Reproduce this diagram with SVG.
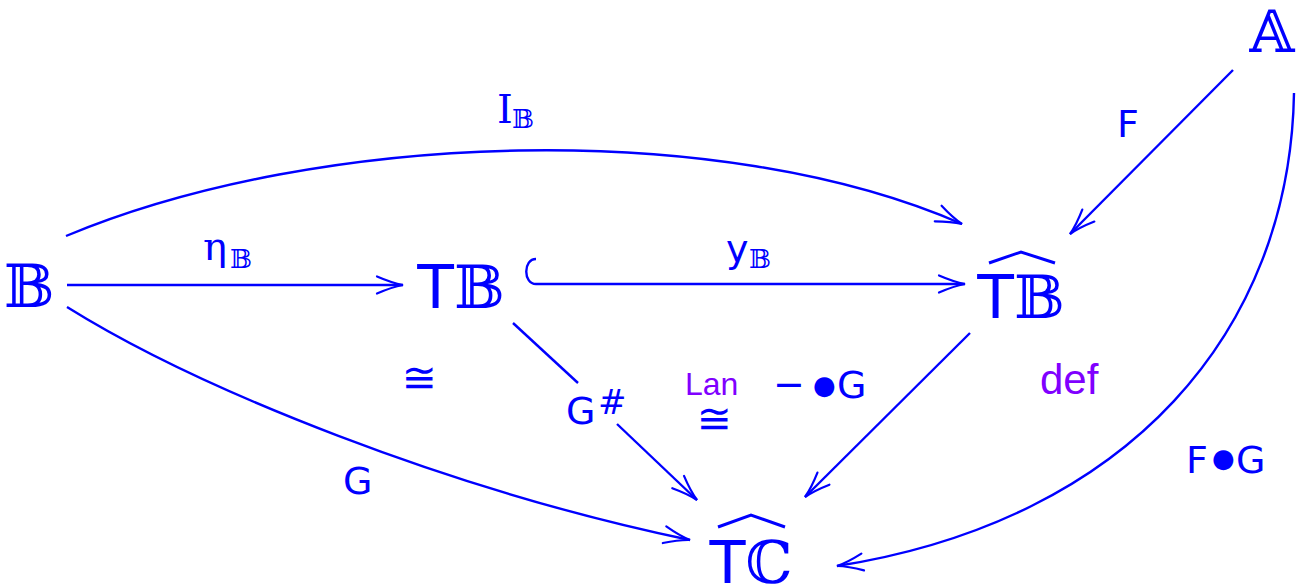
<svg xmlns="http://www.w3.org/2000/svg" width="1304" height="588" viewBox="0 0 1304 588">
<style>
.n{font-family:"DejaVu Serif","DejaVu Sans",serif;fill:#0000ff}
.s{font-family:"DejaVu Sans",sans-serif;fill:#0000ff}
.l{font-family:"DejaVu Sans",sans-serif;fill:#0000ff;font-size:38px}
.p{font-family:"Liberation Sans",sans-serif;fill:#8000ff}
.c{fill:none;stroke:#0000ff;stroke-width:2.4}
.h{fill:none;stroke:#0000ff;stroke-width:3}
</style>
<defs>
<marker id="a" markerUnits="userSpaceOnUse" viewBox="-30 -12 34 24" markerWidth="34" markerHeight="24" refX="0" refY="0" orient="auto">
<path d="M-26,-8.5 Q-11,-2 0,0 Q-11,2 -26,8.5" fill="none" stroke="#0000ff" stroke-width="2.2" stroke-linecap="round"/>
</marker>
</defs>
<g id="nodeB"><text class="n" x="29" y="307" font-size="60" text-anchor="middle">𝔹</text></g>
<g id="nodeTB"><text class="s" x="461" y="308" font-size="60" text-anchor="middle">T<tspan class="n">𝔹</tspan></text></g>
<g id="nodeTBhat"><path class="h" d="M989,263 L1021,252 L1055,263"/><text class="s" x="1021" y="318" font-size="60" text-anchor="middle">T<tspan class="n">𝔹</tspan></text></g>
<g id="nodeTChat"><path class="h" d="M718,527 L751,515 L785,527"/><text class="s" x="751" y="583" font-size="59" text-anchor="middle">T<tspan class="n">ℂ</tspan></text></g>
<g id="nodeA"><text class="n" x="1272" y="52" font-size="58" text-anchor="middle">𝔸</text></g>
<g id="connectors">
<path class="c" d="M67,285 L403,285" marker-end="url(#a)"/>
<path class="c" d="M536,259 C523,259 523,284 536,284 L965,284" marker-end="url(#a)"/>
<path class="c" d="M66,236 C320,130 720,118 962,224" marker-end="url(#a)"/>
<path class="c" d="M67,307 C200,390 450,490 690,540" marker-end="url(#a)"/>
<path class="c" d="M513,323 L578,383"/>
<path class="c" d="M617,424 L697,500" marker-end="url(#a)"/>
<path class="c" d="M970,333 L805,497" marker-end="url(#a)"/>
<path class="c" d="M1233,70 L1070,234" marker-end="url(#a)"/>
<path class="c" d="M1294,93 C1290,330 1130,520 837,566" marker-end="url(#a)"/>
</g>
<g id="labels">
<text class="n" x="497" y="123" font-size="40">I</text><text class="n" x="512" y="128" font-size="26">𝔹</text>
<text class="n" x="203" y="260" font-size="40">η</text><text class="n" x="230" y="268" font-size="26">𝔹</text>
<text class="l" x="726" y="262">y</text><text class="n" x="749" y="268" font-size="26">𝔹</text>
<text class="l" x="1117" y="137">F</text>
<text class="l" x="343" y="494">G</text>
<text class="l" x="566" y="424">G</text><text class="s" x="598" y="414" font-size="34">#</text>
<text class="n" x="419" y="392" font-size="42" text-anchor="middle">≅</text>
<text class="p" x="685" y="395" font-size="32">Lan</text>
<text class="n" x="714" y="433" font-size="42" text-anchor="middle">≅</text>
<text class="l" x="773" y="397">−</text>
<text class="s" x="813" y="394" font-size="26">●</text>
<text class="l" x="837" y="398">G</text>
<text class="p" x="1040" y="394" font-size="42">def</text>
<text class="l" x="1186" y="473">F</text>
<text class="s" x="1212" y="467" font-size="26">●</text>
<text class="l" x="1236" y="473">G</text>
</g>
</svg>
